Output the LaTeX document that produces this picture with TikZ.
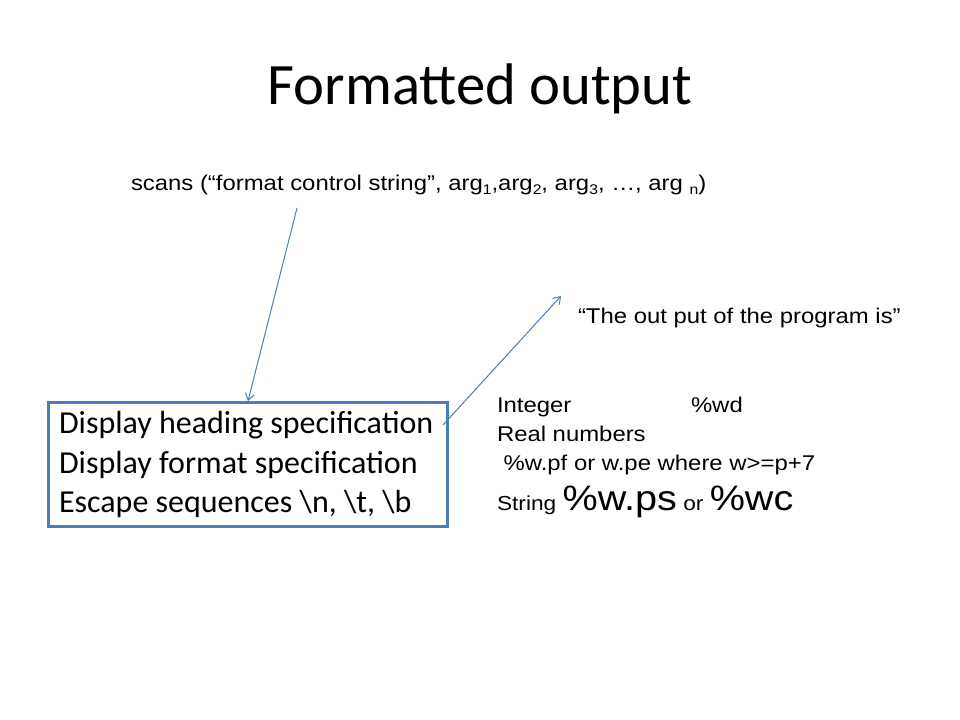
\documentclass[tikz,border=0pt]{standalone}
\usepackage{fontspec}
\setmainfont{Carlito}
\newfontfamily\arialf[FakeStretch=1.12]{Liberation Sans}
\usetikzlibrary{arrows.meta}
\definecolor{boxblue}{HTML}{4A7EBB}
\definecolor{lineblue}{HTML}{4A7EBB}
\newcommand{\mysub}[1]{\raisebox{-0.3ex}{\fontsize{10.5}{10.5}\selectfont #1}}
\tikzset{
  txt/.style={anchor=base west, inner sep=0pt, outer sep=0pt},
  conn/.style={draw=lineblue, line width=0.75pt, -{Straight Barb[length=5pt,width=7pt]}},
}
\begin{document}
\begin{tikzpicture}[x=0.75pt,y=-0.75pt]
\useasboundingbox (0,0) rectangle (960,720);
\fill[white] (0,0) rectangle (960,720);
% title
\node[anchor=base, inner sep=0pt] (title) at (480,105) {\fontsize{44}{52}\selectfont Formatted output};
% scans line
\node[txt] (scans) at (131,191) {\arialf\fontsize{16}{19}\selectfont scans (“format control string”, arg\mysub{1},arg\mysub{2}, arg\mysub{3}, …, arg \mysub{n})};
% output text
\node[txt] (outtxt) at (578,323) {\arialf\fontsize{16}{19}\selectfont “The out put of the program is”};
% box
\node[draw=boxblue, line width=2.25pt, anchor=north west, minimum width=299.25pt, minimum height=93pt, inner sep=0pt] (box) at (47,401) {};
\node[txt] (l1) at (59,433) {\fontsize{24}{29}\selectfont Display heading specification};
\node[txt] (l2) at (59,473) {\fontsize{24}{29}\selectfont Display format specification};
\node[txt] (l3) at (59,512) {\fontsize{24}{29}\selectfont Escape sequences \textbackslash n, \textbackslash t, \textbackslash b};
% right block
\node[txt] (int) at (497,412) {\arialf\fontsize{16}{19}\selectfont Integer};
\node[txt] (wd) at (691,412) {\arialf\fontsize{16}{19}\selectfont \%wd};
\node[txt] (real) at (497,441) {\arialf\fontsize{16}{19}\selectfont Real numbers};
\node[txt] (wpf) at (497,470) {\arialf\fontsize{16}{19}\selectfont \ \%w.pf or w.pe where w>=p+7};
\node[txt] (str) at (497,510) {\arialf\fontsize{15.2}{18}\selectfont String {\fontsize{26.5}{30}\selectfont \%w.ps} or {\fontsize{26.5}{30}\selectfont \%wc}};
% connectors
\coordinate (a1s) at (297,208);
\coordinate (a2s) at (443,425);
\coordinate (a2e) at (561,296);
\draw[conn] (a1s) -- (box.north);
\draw[conn] (a2s) -- (a2e);
\end{tikzpicture}
\end{document}
